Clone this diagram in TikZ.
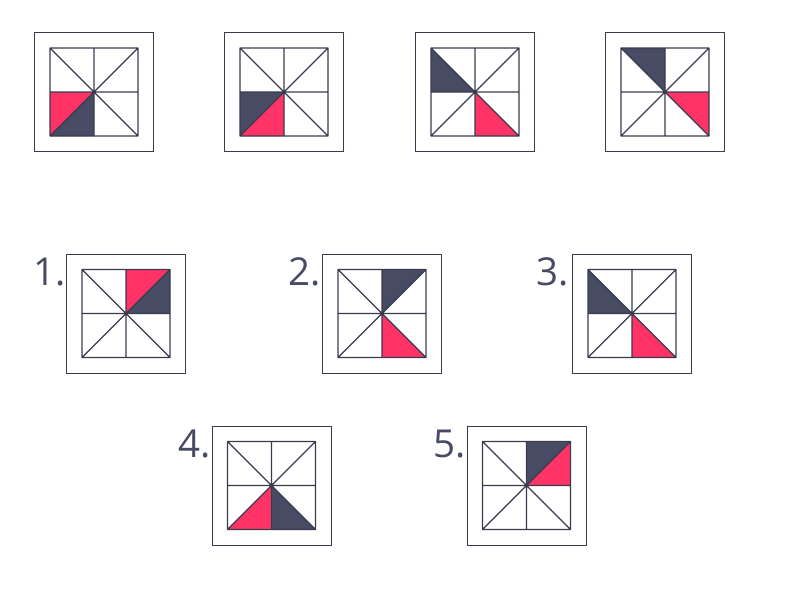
\documentclass[tikz,border=0pt]{standalone}
\usepackage{fontspec}
\setmainfont{Open Sans}
\definecolor{slate}{HTML}{474B64}
\definecolor{linec}{HTML}{3A3C4E}
\definecolor{pinkred}{HTML}{FF3366}
\tikzset{
  outerbox/.style={draw=linec, line width=1pt},
  gridline/.style={draw=linec, line width=1.2pt, line join=round},
  darktri/.style={fill=slate},
  redtri/.style={fill=pinkred},
  numlabel/.style={text=slate, font=\fontsize{38.5}{40}\selectfont, inner sep=0pt, anchor=base east}
}
\newcommand\figbox[2]{%
\begin{scope}[shift={#1}]
#2
\draw[outerbox] (-59.5,-59.5) rectangle (59.5,59.5);
\draw[gridline] (-44,-44) rectangle (44,44) (-44,0)--(44,0) (0,-44)--(0,44) (-44,-44)--(44,44) (-44,44)--(44,-44);
\end{scope}}
\begin{document}
\begin{tikzpicture}[x=1pt,y=-1pt]
\useasboundingbox[fill=white] (0,0) rectangle (800,600);
% top row
\figbox{(94,92)}{\fill[redtri] (0,0)--(-44,0)--(-44,44)--cycle; \fill[darktri] (0,0)--(-44,44)--(0,44)--cycle;}
\figbox{(284,92)}{\fill[darktri] (0,0)--(-44,0)--(-44,44)--cycle; \fill[redtri] (0,0)--(-44,44)--(0,44)--cycle;}
\figbox{(475,92)}{\fill[darktri] (0,0)--(-44,-44)--(-44,0)--cycle; \fill[redtri] (0,0)--(0,44)--(44,44)--cycle;}
\figbox{(665,92)}{\fill[darktri] (0,0)--(-44,-44)--(0,-44)--cycle; \fill[redtri] (0,0)--(44,0)--(44,44)--cycle;}
% answers
\figbox{(126,313.5)}{\fill[redtri] (0,0)--(0,-44)--(44,-44)--cycle; \fill[darktri] (0,0)--(44,-44)--(44,0)--cycle;}
\figbox{(382,313.5)}{\fill[darktri] (0,0)--(0,-44)--(44,-44)--cycle; \fill[redtri] (0,0)--(0,44)--(44,44)--cycle;}
\figbox{(632,313.5)}{\fill[darktri] (0,0)--(-44,-44)--(-44,0)--cycle; \fill[redtri] (0,0)--(0,44)--(44,44)--cycle;}
\figbox{(271.5,485.5)}{\fill[redtri] (0,0)--(0,44)--(-44,44)--cycle; \fill[darktri] (0,0)--(0,44)--(44,44)--cycle;}
\figbox{(526.5,485.5)}{\fill[darktri] (0,0)--(0,-44)--(44,-44)--cycle; \fill[redtri] (0,0)--(44,-44)--(44,0)--cycle;}
% labels
\node[numlabel] (l1) at (65.5,285) {1.};
\node[numlabel] (l2) at (320.5,285) {2.};
\node[numlabel] (l3) at (568.5,285) {3.};
\node[numlabel] (l4) at (210.5,457) {4.};
\node[numlabel] (l5) at (465.5,457) {5.};
\end{tikzpicture}
\end{document}
